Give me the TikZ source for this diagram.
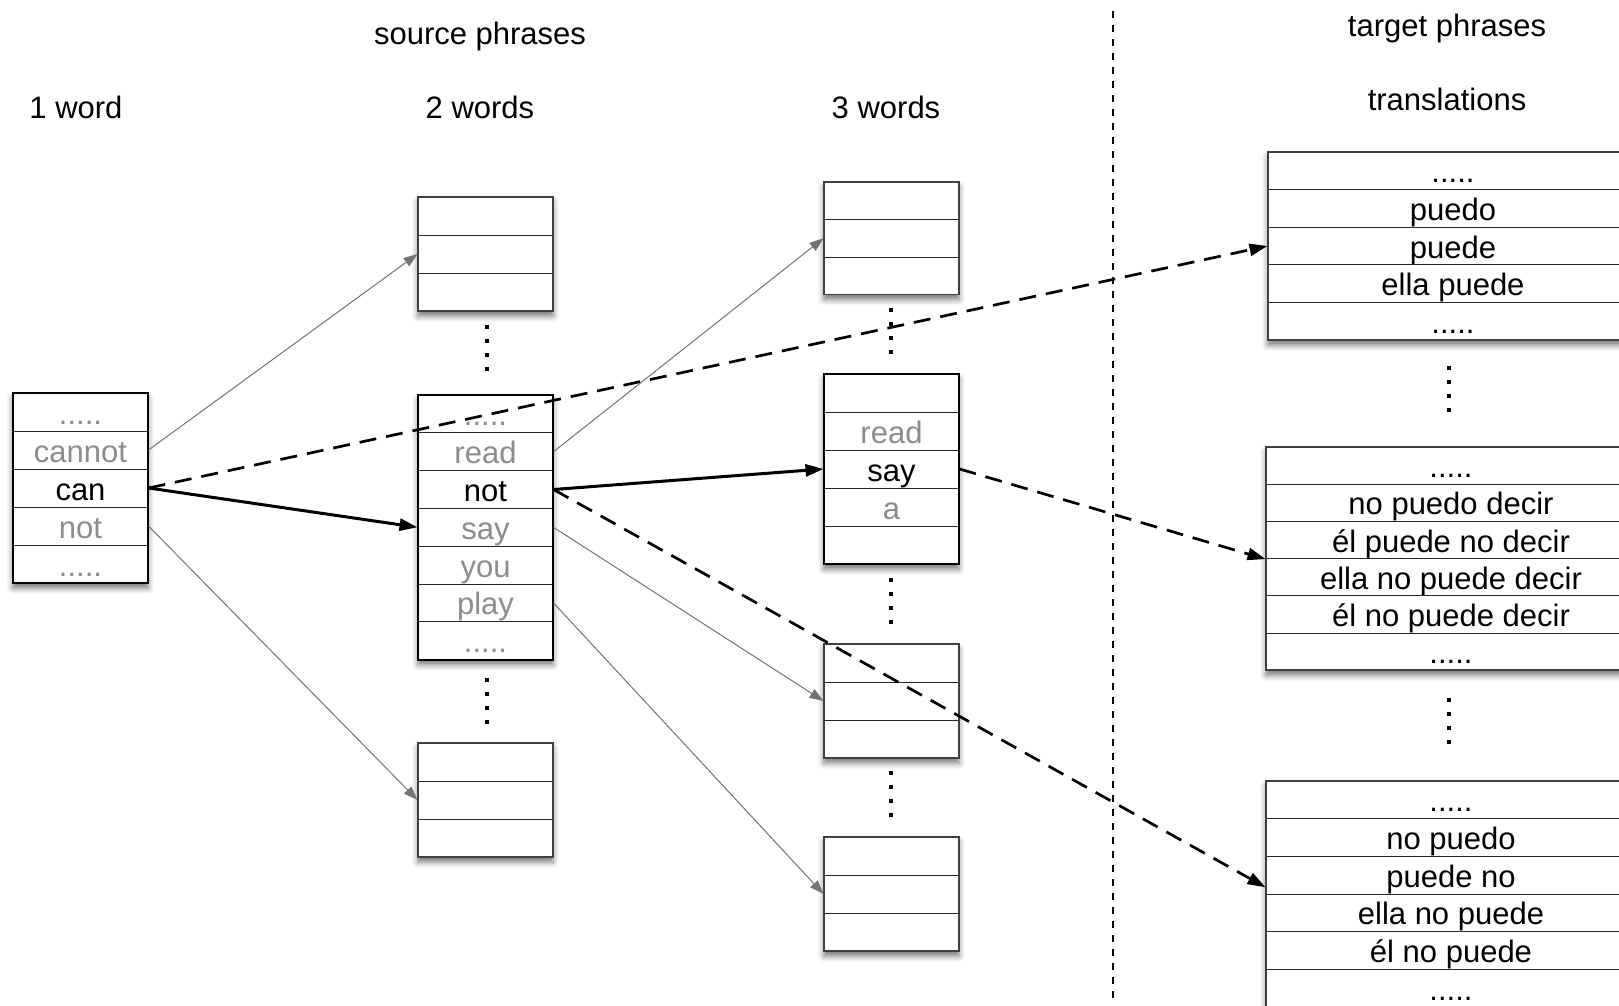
\documentclass[tikz,border=0pt]{standalone}
\usepackage{fontspec}
\setmainfont{Liberation Sans}
\usetikzlibrary{arrows.meta,shadows.blur}

\definecolor{txtgray}{gray}{0.55}
\definecolor{arrgray}{gray}{0.45}

\newcommand{\fivedots}{.....}

\tikzset{
  boxshadow/.style={blur shadow={shadow xshift=0pt, shadow yshift=-5pt, shadow blur radius=6pt, shadow opacity=55}},
  rowbox/.style={draw=black!85, line width=1pt, rectangle, inner sep=0pt, anchor=center,
    font=\fontsize{31}{36}\selectfont, text height=24pt, text depth=0pt},
  title/.style={font=\fontsize{31}{36}\selectfont, text height=24pt, text depth=0pt, inner sep=0pt},
  activeborder/.style={draw=black, line width=2pt},
  plainborder/.style={draw=black!75, line width=1.6pt},
  thinborder/.style={draw=black, line width=1.3pt},
  grayarrow/.style={draw=arrgray, line width=1pt, -{Triangle[length=14pt,width=10pt]}, arrgray},
  boldarrow/.style={draw=black, line width=3pt, -{Triangle[length=18pt,width=12pt]}},
  dasharrow/.style={draw=black, line width=2.7pt, dash pattern=on 17pt off 10pt, -{Triangle[length=18pt,width=12pt]}},
  sepline/.style={draw=black, line width=1.3pt, dash pattern=on 7pt off 7pt}
}

% #1 name, #2 x, #3 y(top), #4 width, #5 row height, #6 rows, #7 border style, #8 list text/colour
\newcommand{\phrbox}[8]{%
  \fill[white, boxshadow] (#2,#3) rectangle ++(#4,#6*#5);
  \foreach \t/\c [count=\i] in {#8} {
    \node[rowbox, minimum width=#4pt, minimum height=#5pt, text=\c]
      (#1-\i) at (#2+#4/2, #3+#5*\i-#5/2) {\t};
  }
  \draw[#7] (#2,#3) rectangle ++(#4,#6*#5);
}

% vertical dots: #1 x, #2 centre y
\newcommand{\vdotcol}[2]{%
  \foreach \k in {0,1,2,3} {
    \fill (#1-1.6, #2-22.6+14*\k) rectangle ++(3.2,3.2);
  }
}

\begin{document}
\begin{tikzpicture}[x=1pt,y=-1pt]
\clip (0,0) rectangle (1619,1006);
\useasboundingbox (0,0) rectangle (1619,1006);

% titles
\node[title] (tsrc) at (480,33) {source phrases};
\node[title] (t1w) at (76,107) {1 word};
\node[title] (t2w) at (480,107) {2 words};
\node[title] (t3w) at (886,107) {3 words};
\node[title] (ttgt) at (1447,25) {target phrases};
\node[title] (ttr) at (1447,99) {translations};

% separator
\draw[sepline] (1113,11) -- (1113,998);

% 1 word
\phrbox{wa}{13}{393}{135}{38}{5}{thinborder}{\fivedots/txtgray, cannot/txtgray, can/black, not/txtgray, \fivedots/txtgray}

% 2 words
\phrbox{wba}{418}{197}{135}{38}{3}{plainborder}{{}/black, {}/black, {}/black}
\phrbox{wbb}{418}{395}{135}{37.8}{7}{activeborder}{\fivedots/txtgray, read/txtgray, not/black, say/txtgray, you/txtgray, play/txtgray, \fivedots/txtgray}
\phrbox{wbc}{418}{743}{135}{38}{3}{plainborder}{{}/black, {}/black, {}/black}

% 3 words
\phrbox{wca}{824}{182}{135}{37.5}{3}{plainborder}{{}/black, {}/black, {}/black}
\phrbox{wcb}{824}{374}{135}{38}{5}{activeborder}{{}/black, read/txtgray, say/black, a/txtgray, {}/black}
\phrbox{wcc}{824}{644}{135}{38}{3}{plainborder}{{}/black, {}/black, {}/black}
\phrbox{wcd}{824}{837}{135}{38}{3}{plainborder}{{}/black, {}/black, {}/black}

% targets
\phrbox{ta}{1268}{152}{370}{37.6}{5}{plainborder}{\fivedots/black, puedo/black, puede/black, ella puede/black, \fivedots/black}
\phrbox{tb}{1266}{447}{370}{37.2}{6}{plainborder}{\fivedots/black, no puedo decir/black, él puede no decir/black, ella no puede decir/black, él no puede decir/black, \fivedots/black}
\phrbox{tc}{1266}{781}{370}{37.7}{6}{plainborder}{\fivedots/black, no puedo/black, puede no/black, ella no puede/black, él no puede/black, \fivedots/black}

% dots
\vdotcol{487}{348}
\vdotcol{487}{701}
\vdotcol{891}{331}
\vdotcol{891}{601}
\vdotcol{891}{794}
\vdotcol{1449}{389}
\vdotcol{1449}{721}

% connectors
\draw[grayarrow] (wa-2.east) -- (wba-2.west);
\draw[grayarrow] (wa-4.east) -- (wbc-2.west);
\draw[grayarrow] (wbb-2.east) -- (wca-2.west);
\draw[grayarrow] (wbb-4.east) -- (wcc-2.west);
\draw[grayarrow] (wbb-6.east) -- (wcd-2.west);
\draw[boldarrow] (wa-3.east) -- (wbb-4.west);
\draw[boldarrow] (wbb-3.east) -- (wcb-3.west);
\draw[dasharrow] (wa-3.east) -- (ta-3.west);
\draw[dasharrow] (wbb-3.east) -- ([yshift=-12pt]tc-3.west);
\draw[dasharrow] (wcb-3.east) -- (tb-3.south west);
\end{tikzpicture}
\end{document}
